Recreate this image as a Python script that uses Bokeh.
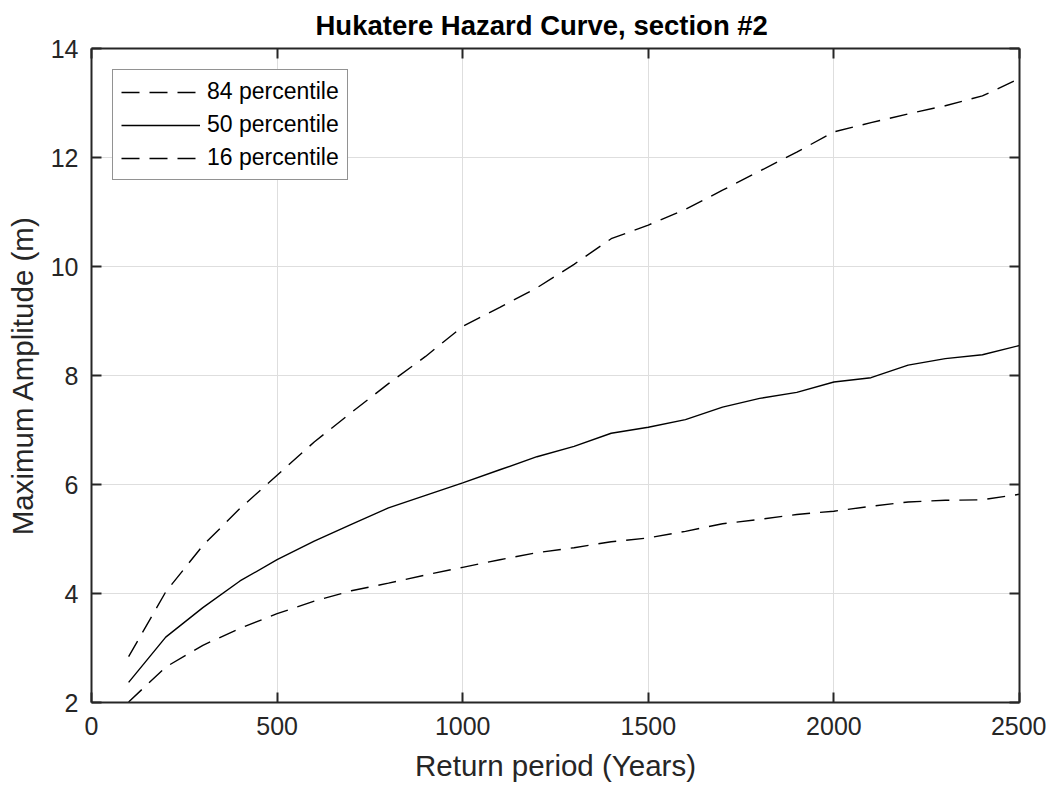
from bokeh.plotting import figure
from bokeh.models import LinearAxis, Range1d, FixedTicker, Legend, LegendItem, CustomLabelingPolicy
from bokeh.embed import file_html
from bokeh.resources import INLINE

years = [100, 200, 300, 400, 500, 600, 700, 800, 900, 1000, 1100, 1200, 1300,
         1400, 1500, 1600, 1700, 1800, 1900, 2000, 2100, 2200, 2300, 2400, 2500]
p84 = [2.84, 4.03, 4.88, 5.56, 6.17, 6.78, 7.32, 7.85, 8.35, 8.90, 9.25, 9.61, 10.04,
       10.51, 10.76, 11.05, 11.40, 11.75, 12.10, 12.47, 12.64, 12.80, 12.95, 13.13, 13.45]
p50 = [2.37, 3.20, 3.74, 4.23, 4.62, 4.96, 5.27, 5.57, 5.80, 6.03, 6.27, 6.51, 6.70,
       6.94, 7.05, 7.19, 7.42, 7.58, 7.69, 7.88, 7.96, 8.19, 8.31, 8.38, 8.55]
p16 = [2.01, 2.65, 3.05, 3.36, 3.63, 3.86, 4.05, 4.19, 4.34, 4.48, 4.62, 4.75, 4.84,
       4.95, 5.02, 5.14, 5.28, 5.36, 5.45, 5.51, 5.60, 5.68, 5.71, 5.72, 5.82]
x_ticks = [0, 500, 1000, 1500, 2000, 2500]
y_ticks = [2, 4, 6, 8, 10, 12, 14]

FONT = "Liberation Sans"
AX = "#262626"
DASH = "18 10"

p = figure(width=1046, height=788, output_backend="svg", toolbar_location=None,
           x_range=Range1d(0, 2500), y_range=Range1d(2, 14),
           min_border_left=91, min_border_right=27, min_border_top=48, min_border_bottom=86,
           title="Hukatere Hazard Curve, section #2")
p.title.text_font = FONT
p.title.text_font_size = "27.5px"
p.title.text_font_style = "bold"
p.title.align = "left"
p.title.offset = 224
p.title.standoff = 15
p.title.text_color = "#000000"

p.outline_line_color = None

r84 = p.line(years, p84, line_color="black", line_width=1.4, line_dash=DASH)
r50 = p.line(years, p50, line_color="black", line_width=1.4)
r16 = p.line(years, p16, line_color="black", line_width=1.4, line_dash=DASH)

for ax in p.xaxis + p.yaxis:
    ax.axis_line_color = AX
    ax.axis_line_width = 2
    ax.major_tick_line_color = AX
    ax.major_tick_line_width = 2
    ax.major_tick_in = 10
    ax.major_tick_out = 0
    ax.minor_tick_line_color = None
    ax.major_label_text_font = FONT
    ax.major_label_text_font_size = "25px"
    ax.major_label_text_color = AX
    ax.axis_label_text_font = FONT
    ax.axis_label_text_font_size = "29.5px"
    ax.axis_label_text_font_style = "normal"
    ax.axis_label_text_color = AX

p.xaxis.ticker = FixedTicker(ticks=x_ticks)
p.yaxis.ticker = FixedTicker(ticks=y_ticks)
p.xaxis.axis_label = "Return period (Years)"
p.yaxis.axis_label = "Maximum Amplitude (m)"
p.xaxis.major_label_standoff = 14
p.yaxis.major_label_standoff = 13
p.xaxis.axis_label_standoff = 11
p.yaxis.axis_label_standoff = 9

hide_all = CustomLabelingPolicy(code="""
    for (const i of Array.from(indices)) { indices.unset(i) }
    return indices
""")

for loc, ticks in (("above", x_ticks), ("right", y_ticks)):
    a = LinearAxis(ticker=FixedTicker(ticks=ticks))
    a.axis_line_color = AX
    a.axis_line_width = 2
    a.major_tick_line_color = AX
    a.major_tick_line_width = 2
    a.major_tick_in = 10
    a.major_tick_out = 0
    a.minor_tick_line_color = None
    a.major_label_text_font_size = "0px"
    a.major_label_standoff = 0
    a.major_label_policy = hide_all
    p.add_layout(a, loc)

p.xgrid.ticker = FixedTicker(ticks=x_ticks)
p.ygrid.ticker = FixedTicker(ticks=y_ticks)
p.grid.grid_line_color = "#dedede"
p.grid.grid_line_width = 1

legend = Legend(items=[LegendItem(label="84 percentile", renderers=[r84]),
                       LegendItem(label="50 percentile", renderers=[r50]),
                       LegendItem(label="16 percentile", renderers=[r16])],
                location="top_left")
legend.label_text_font = FONT
legend.label_text_font_size = "23px"
legend.label_text_color = "#000000"
legend.glyph_width = 79
legend.glyph_height = 26
legend.label_height = 26
legend.spacing = 6
legend.padding = 8
legend.margin = 21
legend.label_standoff = 7
legend.border_line_color = AX
legend.border_line_width = 1
legend.background_fill_alpha = 1
p.add_layout(legend)

open("out.html", "w").write(file_html(p, INLINE))
